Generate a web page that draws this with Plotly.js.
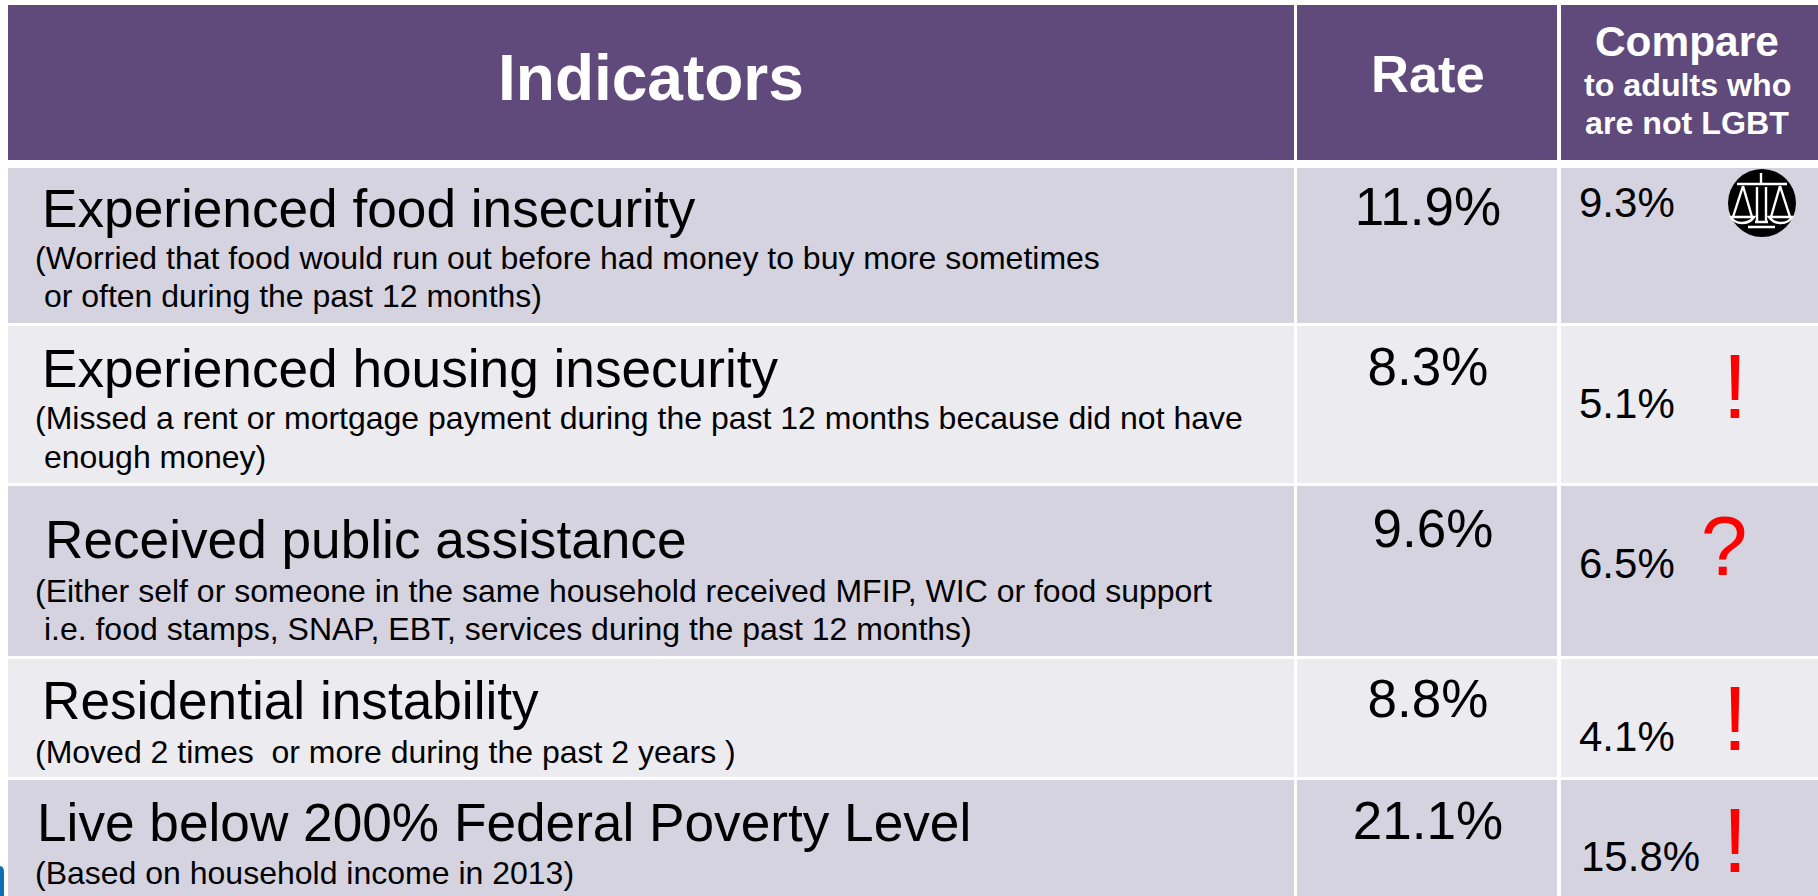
<!DOCTYPE html>
<html><head><meta charset="utf-8">
<style>html,body{margin:0;padding:0;background:#fff;overflow:hidden}</style>
<script src="https://cdn.plot.ly/plotly-3.0.1.min.js"></script></head>
<body><div id="chart" style="width:1818px;height:896px"></div>
<script>
// ---- chart content ----
const columns = ["Indicators", "Rate"];
const compareHead = ["Compare", "to adults who", "are not LGBT"];
const indicators = ["Experienced food insecurity", "Experienced housing insecurity", "Received public assistance", "Residential instability", "Live below 200% Federal Poverty Level"];
const details = [
  ["(Worried that food would run out before had money to buy more sometimes", " or often during the past 12 months)"],
  ["(Missed a rent or mortgage payment during the past 12 months because did not have", " enough money)"],
  ["(Either self or someone in the same household received MFIP, WIC or food support", " i.e. food stamps, SNAP, EBT, services during the past 12 months)"],
  ["(Moved 2 times  or more during the past 2 years )"],
  ["(Based on household income in 2013)"]
];
const rates = ["11.9%", "8.3%", "9.6%", "8.8%", "21.1%"];
const compareValues = ["9.3%", "5.1%", "6.5%", "4.1%", "15.8%"];
const flags = ["", "!", "?", "!", "!"];

// ---- layout geometry ----
const colEdges = [[8,1294],[1297,1557],[1561,1818]];
const headerBand = [5,160];
const rowBands = [[168,323],[326,483],[486,656],[659,777],[780,896]];
const rowFill = ["#d6d3e0","#ecebf0","#d6d3e0","#ecebf0","#d6d3e0"];
const titleY = [208,368,539,700,822];
const titleX = [42,42,45,42,37];
const detailY = [[258,296],[418,457],[591,629],[752],[873]];
const rateX = [1428,1428,1433,1428,1428];
const rateY = [212,372,534,704,826];
const compareX = [1579,1579,1579,1579,1581];
const compareY = [206,407,567,740,860];
const flagX = [0,1735,1724,1735,1735];
const flagY = [0,395,554,727,849];
const flagSize = [0,90,84,90,90];

const shapes = [];
const rect = (x0,x1,y0,y1,fill)=>shapes.push({type:'rect',xref:'x',yref:'y',x0,x1,y0,y1,fillcolor:fill,line:{width:0},layer:'below'});
colEdges.forEach(c=>{
  rect(c[0],c[1],headerBand[0],headerBand[1],'#604a7b');
  rowBands.forEach((r,i)=>rect(c[0],c[1],r[0],r[1],rowFill[i]));
});
// blue corner remnant
shapes.push({type:'path',xref:'x',yref:'y',path:'M0,866 Q4,866 4,872 L4,896 L0,896 Z',fillcolor:'#0f6fb5',line:{width:0},layer:'below'});
// scales icon
const cx=1762, cy=203, R=34;
shapes.push({type:'circle',xref:'x',yref:'y',x0:cx-R,x1:cx+R,y0:cy-R,y1:cy+R,fillcolor:'#000',line:{width:0}});
const ln={color:'#fff',width:2.4};
const iconPaths=[
 'M1737,184 L1787,184',
 'M1761,173 L1761,183',
 'M1743,186 L1733,217 M1743,186 L1752,217',
 'M1780,186 L1771,217 M1780,186 L1790,217',
 'M1731,217 L1754,217 Q1750,223 1742,223 Q1734,223 1731,217 Z',
 'M1769,217 L1792,217 Q1789,223 1781,223 Q1773,223 1769,217 Z',
 'M1757,187 L1757,222 M1766,187 L1766,222',
 'M1755,222 L1768,222 M1748,227 L1775,227'
];
iconPaths.forEach(p=>shapes.push({type:'path',xref:'x',yref:'y',path:p,line:ln}));

const FONT='"Liberation Sans", Arial, sans-serif';
const ann=(x,y,text,size,color,bold,anchor)=>({x,y,xref:'x',yref:'y',text:bold?`<b>${text}</b>`:text,showarrow:false,xanchor:anchor||'left',yanchor:'middle',font:{family:FONT,size,color},borderpad:0,borderwidth:0});
const annotations=[
  ann(651,78,columns[0],64,'#fff',true,'center'),
  ann(1428,73,columns[1],52.5,'#fff',true,'center'),
  ann(1687,41,compareHead[0],42.4,'#fff',true,'center'),
  ann(1687,85,compareHead[1],32.2,'#fff',true,'center'),
  ann(1687,123,compareHead[2],32.2,'#fff',true,'center')
];
indicators.forEach((t,i)=>{
  annotations.push(ann(titleX[i],titleY[i],t,53.2,'#000'));
  details[i].forEach((d,j)=>annotations.push(ann(35,detailY[i][j],d.replace(/ /g,'\u00a0'),32,'#000')));
});

const data=[
 {type:'scatter',mode:'text',name:'Rate',x:rateX,y:rateY,text:rates,textposition:'middle center',textfont:{family:FONT,size:53,color:'#000'},hoverinfo:'skip',showlegend:false},
 {type:'scatter',mode:'text',name:'Compare',x:compareX,y:compareY,text:compareValues,textposition:'middle right',textfont:{family:FONT,size:42,color:'#000'},hoverinfo:'skip',showlegend:false},
 {type:'scatter',mode:'text',name:'Flag',x:flagX.slice(1),y:flagY.slice(1),text:flags.slice(1),textposition:'middle center',textfont:{family:FONT,size:flagSize.slice(1),color:'#ff0000'},hoverinfo:'skip',showlegend:false}
];
const layout={
  width:1818,height:896,margin:{l:0,r:0,t:0,b:0,pad:0},
  paper_bgcolor:'#fff',plot_bgcolor:'#fff',showlegend:false,
  xaxis:{range:[0,1818],visible:false,fixedrange:true},
  yaxis:{range:[896,0],visible:false,fixedrange:true},
  shapes,annotations
};
Plotly.newPlot('chart',data,layout,{displayModeBar:false,staticPlot:true});
</script></body></html>
